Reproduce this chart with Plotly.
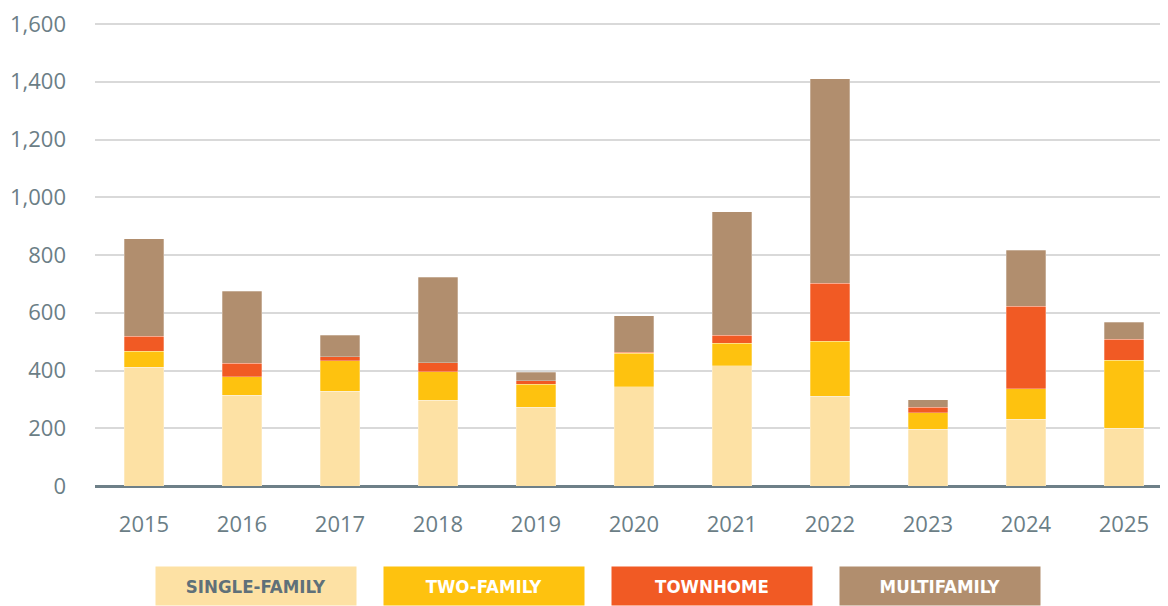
import plotly.graph_objects as go

years = ["2015", "2016", "2017", "2018", "2019", "2020", "2021", "2022", "2023", "2024", "2025"]
single_family = [412, 315, 329, 297, 272, 343, 416, 310, 197, 232, 200]
two_family = [55, 64, 105, 98, 81, 116, 78, 192, 57, 105, 236]
townhome = [52, 46, 14, 32, 12, 4, 28, 200, 18, 285, 72]
multifamily = [337, 250, 74, 296, 29, 126, 427, 708, 26, 194, 59]

series_names = ["SINGLE-FAMILY", "TWO-FAMILY", "TOWNHOME", "MULTIFAMILY"]
series_values = [single_family, two_family, townhome, multifamily]
colors = ["#FDE1A4", "#FEC20F", "#F15A24", "#B18E6E"]
text_colors = ["#5F7079", "#FFFFFF", "#FFFFFF", "#FFFFFF"]
y_ticks = [0, 200, 400, 600, 800, 1000, 1200, 1400, 1600]

fig = go.Figure()
for name, vals, col in zip(series_names, series_values, colors):
    fig.add_trace(go.Bar(
        x=years, y=vals, name=name,
        marker=dict(color=col, line=dict(color="rgba(255,255,255,0.35)", width=0.8)),
        showlegend=False,
    ))

# page body has an 8px default margin; figure coordinates are offset by it
W, H = 1160, 598
ml, mr, mt, mb = 87, 0, 14, 120
pw = W - ml - mr
ph = H - mt - mb

box_w, box_gap = 200, 28
start_x = 148
for i, (name, col, tcol) in enumerate(zip(series_names, colors, text_colors)):
    cx = start_x + i * (box_w + box_gap) + box_w / 2
    fig.add_annotation(
        xref="paper", yref="paper",
        x=(cx - ml) / pw, y=-(578 - (mt + ph)) / ph,
        xanchor="center", yanchor="middle",
        text=f"<b>{name}</b>", showarrow=False,
        width=box_w, height=38, borderpad=0,
        bgcolor=col, align="center", valign="middle",
        font=dict(family="DejaVu Sans Condensed", size=18.5, color=tcol),
    )

fig.update_layout(
    width=W, height=H,
    margin=dict(l=ml, r=mr, t=mt, b=mb, autoexpand=False),
    barmode="stack", bargap=0.6,
    plot_bgcolor="white", paper_bgcolor="white",
    font=dict(family="Open Sans", size=22, color="#6B7E86"),
)
fig.update_xaxes(
    type="category", range=[-0.5, 10.45],
    showgrid=False, showline=False, ticks="", automargin=False,
    ticklabelstandoff=23, ticklabeloverflow="allow",
    tickfont=dict(family="Open Sans", size=22, color="#6B7E86"),
)
fig.update_yaxes(
    range=[0, 1607], tickvals=y_ticks, tickformat=",",
    showgrid=True, gridcolor="#D9D9D9", gridwidth=1.5,
    zeroline=True, zerolinecolor="#6E8088", zerolinewidth=2.5,
    showline=False, ticks="", automargin=False,
    ticklabelstandoff=28, ticklabeloverflow="allow",
    tickfont=dict(family="Open Sans", size=22, color="#6B7E86"),
)

fig.write_html("out.html")
